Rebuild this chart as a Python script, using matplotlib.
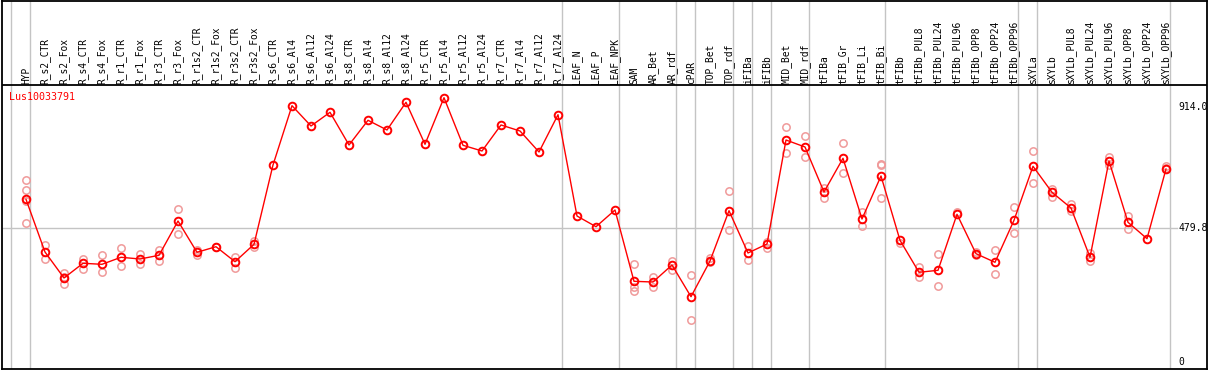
import matplotlib
matplotlib.use("Agg")
import matplotlib.pyplot as plt

categories = ["HYP", "R_s2_CTR", "R_s2_Fox", "R_s4_CTR", "R_s4_Fox", "R_r1_CTR", "R_r1_Fox",
              "R_r3_CTR", "R_r3_Fox", "R_r1s2_CTR", "R_r1s2_Fox", "R_r3s2_CTR", "R_r3s2_Fox",
              "R_s6_CTR", "R_s6_Al4", "R_s6_Al12", "R_s6_Al24", "R_s8_CTR", "R_s8_Al4",
              "R_s8_Al12", "R_s8_Al24", "R_r5_CTR", "R_r5_Al4", "R_r5_Al12", "R_r5_Al24",
              "R_r7_CTR", "R_r7_Al4", "R_r7_Al12", "R_r7_Al24", "LEAF_N", "LEAF_P", "LEAF_NPK",
              "SAM", "AR_Bet", "AR_rdf", "cPAR", "TOP_Bet", "TOP_rdf", "iFIBa", "iFIBb",
              "MID_Bet", "MID_rdf", "tFIBa", "tFIB_Gr", "tFIB_Li", "tFIB_Bi", "tFIBb",
              "tFIBb_PUL8", "tFIBb_PUL24", "tFIBb_PUL96", "tFIBb_OPP8", "tFIBb_OPP24",
              "tFIBb_OPP96", "sXYLa", "sXYLb", "sXYLb_PUL8", "sXYLb_PUL24", "sXYLb_PUL96",
              "sXYLb_OPP8", "sXYLb_OPP24", "sXYLb_OPP96"]

group_sizes = [1, 28, 3, 3, 1, 2, 1, 1, 2, 4, 7, 1, 7]

means = [582.5, 393.8, 300.8, 353.4, 349.8, 374.9, 368.8, 382.0, 504.8, 392.8, 412.8, 359.1,
         421.4, 705.3, 917.7, 845.0, 894.0, 777.0, 865.4, 830.7, 929.8, 779.5, 946.3, 775.9,
         755.5, 848.6, 827.1, 751.9, 885.4, 522.7, 484.4, 544.2, 288.9, 286.4, 347.3, 233.8,
         361.6, 541.7, 390.3, 422.5, 794.8, 769.8, 608.7, 729.3, 512.0, 666.0, 435.7, 321.2,
         328.3, 528.8, 387.8, 357.0, 507.3, 700.7, 607.6, 551.4, 374.9, 719.7, 500.2, 441.5,
         691.0]

replicates = [
    [650.6, 614.8, 576.4, 497.7], [418.9, 369.9], [319.7, 278.2, 304.0], [369.9, 334.1],
    [382.0, 321.2], [408.2, 342.6], [387.8, 350.9], [401.0, 361.6], [546.7, 457.2],
    [400.0, 383.0], [412.8], [377.1, 335.5], [434.3, 412.8],
    [], [], [], [], [], [], [], [], [], [], [], [], [], [], [], [],
    [], [], [],
    [350.9, 267.5, 255.3], [303.3, 269.6], [362.7, 329.4], [311.5, 150.4],
    [371.3, 357.0], [612.3, 472.6], [415.3, 364.1], [430.7, 409.2],
    [841.4, 747.2], [809.2, 734.0], [624.1, 586.1], [784.1, 675.6], [536.0, 488.0],
    [707.8, 704.3, 587.2], [426.1], [341.2, 305.4], [385.6, 271.0], [537.1],
    [392.8, 382.0], [402.1, 314.0], [553.9, 460.8], [754.4, 639.8], [619.4, 591.8],
    [564.6, 539.6], [391.3, 360.5], [735.1, 706.4], [522.7, 475.1], [], [700.7, 695.0],
]

y_ticks = [914.0, 479.8, 0]
y_tick_labels = ["914.0", "479.8", "0"]
gene = "Lus10033791"

W, H = 1209, 370
fig = plt.figure(figsize=(W / 100, H / 100), dpi=100)
# axes frame in pixels: left 1.5, right 1207, top 0.5, bottom 369
ax = fig.add_axes([1.5 / W, (H - 369) / H, (1207 - 1.5) / W, (369 - 0.5) / H])

# pixel mapping: x = 26 + 19*i ; y = 362 - 0.2793*v
def xi(px):
    return (px - 26) / 19.0

def yv(py):
    return (362 - py) / 0.2793

ax.set_xlim(xi(1.5), xi(1207))
ax.set_ylim(yv(369), yv(0.5))
ax.set_xticks([])
ax.set_yticks([])
for s in ax.spines.values():
    s.set_linewidth(1.3)
    s.set_color("black")

mono = "DejaVu Sans Mono"
grid_c = "#c4c4c4"

# group separators
seps = [-1 + 0.21]
pos = -1
for g in group_sizes:
    pos += g
    seps.append(pos + 0.21)
for s in seps:
    ax.axvline(s, color=grid_c, lw=1.0, zorder=1)

# horizontal gridline at middle tick
ax.plot([xi(1.5), xi(1177)], [y_ticks[1], y_ticks[1]], color=grid_c, lw=1.0, zorder=1)

# label area separator
ax.axhline(yv(85), color="black", lw=1.3, zorder=3)

# category labels
for i, c in enumerate(categories):
    ax.text(i, yv(83.5), c, rotation=90, ha="center", va="bottom", fontsize=6.9,
            family=mono, color="black", zorder=4)

# y tick labels
for v, lab in zip(y_ticks, y_tick_labels):
    ax.text(xi(1178), v, lab, ha="left", va="center", fontsize=7, family=mono,
            color="black", clip_on=True, zorder=4)

ax.text(xi(9), yv(97), gene, ha="left", va="center", fontsize=7.2, family=mono,
        color="red", zorder=4)

# replicates
rx, ry = [], []
for i, reps in enumerate(replicates):
    for r in reps:
        rx.append(i)
        ry.append(r)
ax.plot(rx, ry, linestyle="none", marker="o", markersize=5.3, markerfacecolor="none",
        markeredgecolor="#f09a9a", markeredgewidth=1.1, zorder=5)

x = list(range(len(categories)))
ax.plot(x, means, color="red", lw=1.0, zorder=6)
ax.plot(x, means, linestyle="none", marker="o", markersize=5.5, markerfacecolor="none",
        markeredgecolor="red", markeredgewidth=1.4, zorder=7)

fig.savefig("out.png", dpi=100)
